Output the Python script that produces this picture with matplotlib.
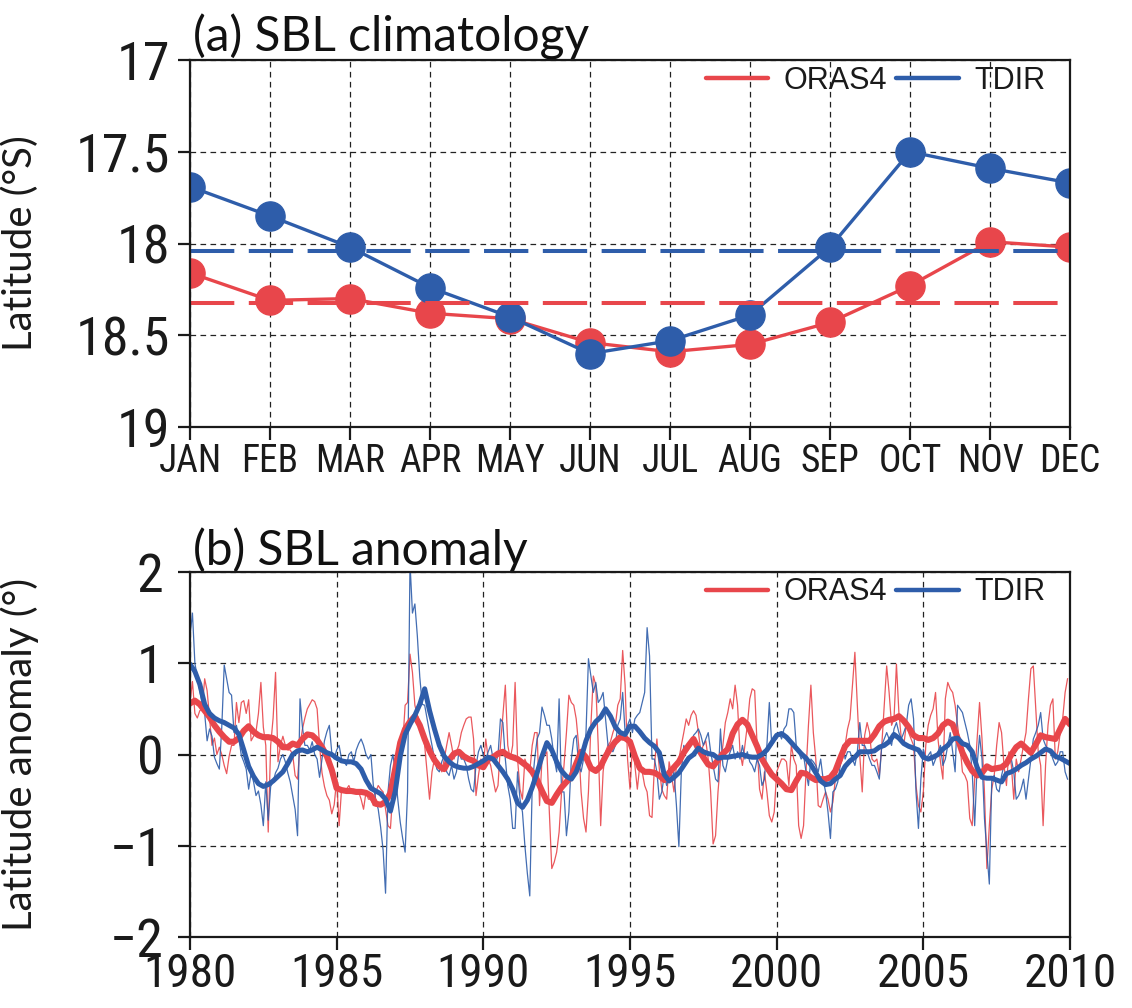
import numpy as np
import matplotlib
matplotlib.use("Agg")
import matplotlib.pyplot as plt
from matplotlib.lines import Line2D

# ---------------------------------------------------------------- data
months = ["JAN", "FEB", "MAR", "APR", "MAY", "JUN",
          "JUL", "AUG", "SEP", "OCT", "NOV", "DEC"]

# monthly climatology of the SBL latitude (degrees south)
oras4_clim = [18.16, 18.31, 18.30, 18.38, 18.41, 18.54,
              18.59, 18.55, 18.43, 18.23, 17.99, 18.02]
tdir_clim = [17.69, 17.85, 18.02, 18.24, 18.40, 18.60,
             18.53, 18.39, 18.02, 17.50, 17.59, 17.67]

clim_yticks = [17, 17.5, 18, 18.5, 19]
clim_yticklabels = ["17", "17.5", "18", "18.5", "19"]

start_year = 1980
end_year = 2010
year_ticks = [1980, 1985, 1990, 1995, 2000, 2005, 2010]
anom_yticks = [-2, -1, 0, 1, 2]

# monthly anomalies, Jan 1980 - Dec 2009 (degrees)
oras4_monthly = [
    0.57, 0.80, 0.45, 0.40, 0.48, 0.50, 0.83, 0.70, 0.40, 0.10, 0.18, 0.00,
    0.08, 0.00, -0.12, -0.21, -0.02, 0.10, 0.10, 0.57, 0.35, 0.57, 0.59, 0.45,
    0.60, 0.15, 0.20, 0.25, 0.45, 0.79, 0.30, 0.10, -0.85, 0.10, 0.40, 0.90,
    -0.08, 0.10, 0.20, 0.10, 0.05, 0.05, 0.00, -0.23, -0.27, 0.10, 0.28, 0.40,
    0.50, 0.55, 0.60, 0.58, 0.50, 0.10, -0.20, -0.35, -0.45, -0.50, -0.65, -0.55,
    -0.27, -0.78, -0.38, -0.41, -0.38, -0.34, -0.41, -0.38, -0.41, -0.41, -0.49, -0.60,
    -0.41, -0.49, -0.49, -0.56, -0.41, -0.34, -0.38, -0.41, -0.60, -0.78, -0.81, -0.41,
    -0.19, -0.12, -0.05, 0.10, 0.54, 0.57, 1.10, 0.90, 0.54, 0.43, 0.35, 0.24,
    0.10, -0.19, -0.49, -0.19, -0.05, -0.12, -0.12, -0.19, -0.05, 0.10, 0.24, 0.10,
    -0.05, 0.03, 0.10, 0.24, 0.32, 0.39, 0.41, 0.41, 0.17, -0.45, -0.23, -0.05,
    -0.12, 0.17, -0.05, -0.12, -0.27, -0.41, -0.34, 0.10, 0.43, 0.76, 0.10, -0.05,
    0.10, 0.79, -0.05, -0.38, -0.49, -0.05, -0.12, -0.19, 0.10, 0.24, 0.24, -0.56,
    -0.05, -0.01, 0.03, -0.63, -1.25, -1.18, -1.07, -0.85, -0.41, -0.12, 0.24, 0.65,
    0.57, 0.54, 0.39, 0.10, -0.41, -0.70, -0.85, -0.41, 0.32, 0.86, 0.76, 0.10,
    -0.78, -0.19, 0.03, 0.10, 0.14, 0.24, 0.32, 0.54, 0.61, 1.14, 0.76, -0.05,
    -0.38, 0.10, -0.12, -0.38, -0.12, -0.19, -0.34, -0.41, -0.67, -0.69, -0.12, 0.17,
    -0.16, -0.38, -0.45, -0.49, -0.08, -0.23, -0.41, -0.12, -0.05, 0.10, 0.24, 0.39,
    0.32, 0.43, 0.48, 0.43, 0.24, 0.03, 0.10, 0.15, -0.05, -0.41, -0.98, -0.89,
    -0.41, -0.08, 0.10, 0.35, 0.46, 0.61, 0.50, 0.76, 0.54, 0.03, -0.12, 0.10,
    0.32, 0.61, 0.72, 0.70, 0.10, -0.38, -0.49, -0.19, -0.41, -0.67, -0.74, -0.63,
    -0.19, -0.12, -0.05, -0.05, -0.08, -0.34, 0.10, -0.05, -0.12, -0.78, -0.92, -0.78,
    -0.19, 0.32, 0.76, 0.24, -0.05, -0.56, -0.58, -0.49, -0.41, -0.49, -0.63, -0.52,
    -0.27, -0.16, -0.12, -0.05, 0.10, 0.28, 0.39, 0.76, 1.12, 0.54, -0.01, -0.41,
    0.21, 0.35, 0.24, -0.05, -0.08, -0.05, -0.23, 0.10, 0.54, 0.97, 0.68, 0.32,
    0.39, 0.99, 0.46, 0.17, 0.10, 0.32, 0.24, 0.17, 0.10, -0.34, -0.56, -0.63,
    -0.41, 0.10, 0.32, 0.43, 0.50, 0.68, 0.17, -0.08, -0.27, 0.61, 0.79, 0.72,
    0.68, 0.54, 0.32, 0.10, -0.19, -0.23, -0.30, -0.70, -0.78, -0.27, 0.17, 0.57,
    0.17, -0.41, -1.25, -0.78, -0.38, -0.23, 0.10, 0.35, 0.24, -0.12, -0.34, 0.03,
    -0.12, -0.49, -0.05, -0.19, -0.05, 0.10, 0.24, 0.61, 0.94, 0.97, 0.50, 0.03,
    -0.12, -0.78, -0.12, 0.32, 0.54, 0.61, -0.05, 0.03, 0.24, 0.39, 0.68, 0.83,
]

tdir_monthly = [
    1.30, 1.55, 1.00, 0.85, 0.70, 0.55, 0.45, 0.15, 0.28, 0.20, -0.03, -0.10,
    -0.16, 0.30, 0.98, 0.83, 0.68, 0.65, 0.24, 0.32, 0.17, -0.01, -0.08, -0.16,
    -0.38, -0.20, -0.30, -0.45, -0.40, -0.55, -0.78, -0.30, -0.72, -0.35, -0.30, -0.20,
    -0.15, -0.05, 0.00, -0.08, -0.20, -0.30, -0.45, -0.60, -0.89, 0.61, 0.30, 0.10,
    0.10, 0.05, 0.14, 0.00, -0.05, -0.25, -0.05, 0.15, 0.25, 0.32, 0.02, -0.05,
    0.05, 0.10, -0.05, -0.08, -0.12, 0.00, 0.03, -0.08, 0.05, 0.12, 0.17, 0.10,
    0.00, -0.05, 0.00, -0.34, -0.50, -0.60, -0.80, -1.05, -1.52, -0.41, -0.12, 0.00,
    -0.19, -0.49, -0.74, -0.92, -1.07, -0.41, 2.10, 1.55, 1.65, 1.30, 0.85, 0.55,
    0.54, 0.39, 0.24, 0.10, -0.05, -0.16, -0.19, -0.08, -0.01, -0.19, -0.23, -0.12,
    -0.27, -0.19, 0.03, -0.05, -0.05, -0.12, -0.27, -0.38, -0.41, -0.12, 0.03, 0.10,
    -0.01, -0.05, 0.03, 0.10, -0.05, -0.10, -0.01, 0.39, 0.35, -0.05, -0.34, -0.49,
    -0.81, -0.81, -0.19, -0.49, -0.63, -1.00, -1.30, -1.55, -0.34, -0.05, 0.17, 0.24,
    0.52, 0.43, 0.32, 0.32, 0.17, -0.05, -0.19, 0.61, -0.41, -0.41, -0.89, -0.63,
    -0.05, 0.17, 0.21, -0.12, -0.19, -0.05, 0.24, 1.05, 0.86, 0.68, 0.79, 0.57,
    0.61, 0.68, 0.39, 0.10, 0.06, 0.03, 0.10, 0.32, 0.39, 0.68, 0.24, 0.32,
    0.39, 0.24, 0.39, 0.43, 0.46, 0.57, 0.68, 1.39, 1.08, -0.05, -0.05, -0.19,
    -0.49, -0.41, -0.23, -0.34, -0.16, -0.27, -0.19, -0.56, -1.01, -0.19, 0.10, 0.03,
    0.06, 0.10, 0.21, 0.24, 0.28, 0.21, 0.10, 0.17, 0.24, 0.03, -0.12, -0.27,
    -0.30, 0.28, -0.12, -0.19, -0.05, 0.03, 0.10, -0.05, 0.03, -0.05, 0.10, -0.05,
    0.03, -0.08, -0.12, -0.19, -0.05, -0.12, -0.34, -0.27, 0.10, 0.57, 0.10, 0.17,
    0.17, 0.24, 0.17, 0.28, 0.32, 0.50, 0.50, 0.46, 0.10, 0.03, -0.05, -0.01,
    -0.19, -0.34, -0.05, -0.08, -0.12, -0.19, -0.05, -0.27, -0.41, -0.63, -0.92, -0.41,
    -0.38, -0.30, -0.12, 0.10, -0.05, 0.03, 0.03, -0.05, -0.12, 0.03, 0.35, 0.10,
    0.10, 0.03, -0.05, -0.12, -0.12, -0.19, -0.27, 0.10, 0.17, 0.24, 0.17, 0.10,
    0.28, 0.35, 0.24, 0.17, 0.24, 0.32, 0.54, 0.61, 0.39, -0.41, -0.81, -0.27,
    0.06, -0.05, -0.01, 0.03, -0.12, -0.05, 0.03, 0.10, -0.12, -0.05, 0.10, 0.24,
    0.03, -0.19, 0.54, 0.50, 0.46, 0.35, 0.24, 0.10, -0.19, -0.78, -0.12, 0.21,
    -0.05, -0.70, -1.07, -1.42, -0.27, -0.23, -0.38, -0.41, -0.23, -0.12, -0.05, -0.01,
    -0.05, -0.19, -0.49, -0.45, -0.38, -0.27, -0.49, -0.27, -0.05, 0.17, 0.24, 0.32,
    0.46, 0.17, 0.10, 0.06, 0.03, -0.05, -0.12, -0.08, 0.03, 0.03, -0.19, -0.27,
]

# low-pass filtered anomalies, sampled every two months, 1980.0 - 2010.0
oras4_smooth = [
    0.56, 0.59, 0.55, 0.48, 0.41, 0.32,
    0.25, 0.19, 0.14, 0.14, 0.18, 0.26,
    0.31, 0.25, 0.21, 0.19, 0.19, 0.18,
    0.14, 0.08, 0.08, 0.12, 0.10, 0.17,
    0.22, 0.21, 0.16, 0.08, -0.02, -0.17,
    -0.37, -0.39, -0.40, -0.40, -0.41, -0.41,
    -0.42, -0.45, -0.54, -0.55, -0.52, -0.42,
    -0.15, 0.13, 0.28, 0.36, 0.42, 0.32,
    0.17, 0.04, -0.06, -0.13, -0.16, -0.06,
    0.01, 0.03, -0.02, -0.05, -0.07, -0.12,
    -0.14, -0.05, -0.03, 0.01, 0.03, -0.01,
    -0.03, -0.05, -0.09, -0.13, -0.19, -0.28,
    -0.40, -0.51, -0.53, -0.44, -0.36, -0.30,
    -0.24, -0.10, 0.03, -0.03, -0.15, -0.18,
    -0.13, -0.02, 0.07, 0.14, 0.19, 0.18,
    0.14, -0.02, -0.15, -0.19, -0.19, -0.20,
    -0.23, -0.28, -0.20, -0.14, -0.08, 0.02,
    0.10, 0.17, 0.06, -0.03, -0.11, -0.13,
    -0.06, 0.01, 0.06, 0.23, 0.33, 0.38,
    0.33, 0.21, 0.09, -0.05, -0.14, -0.22,
    -0.27, -0.32, -0.38, -0.39, -0.29, -0.20,
    -0.21, -0.25, -0.28, -0.27, -0.27, -0.25,
    -0.18, -0.04, 0.09, 0.15, 0.15, 0.15,
    0.15, 0.15, 0.22, 0.31, 0.36, 0.38,
    0.39, 0.42, 0.37, 0.30, 0.21, 0.18,
    0.18, 0.16, 0.18, 0.23, 0.32, 0.36,
    0.33, 0.18, 0.02, -0.09, -0.18, -0.23,
    -0.20, -0.13, -0.16, -0.15, -0.14, -0.10,
    0.00, 0.08, 0.12, 0.07, 0.02, 0.11,
    0.21, 0.19, 0.18, 0.17, 0.28, 0.39,
    0.33,
]

tdir_smooth = [
    0.99, 0.91, 0.77, 0.55, 0.45, 0.40,
    0.37, 0.35, 0.32, 0.29, 0.22, 0.05,
    -0.13, -0.24, -0.32, -0.35, -0.33, -0.29,
    -0.24, -0.19, -0.10, 0.00, 0.04, 0.05,
    0.03, 0.05, 0.08, 0.05, 0.02, 0.00,
    -0.04, -0.07, -0.08, -0.08, -0.10, -0.16,
    -0.28, -0.37, -0.40, -0.43, -0.49, -0.62,
    -0.40, -0.02, 0.22, 0.33, 0.43, 0.55,
    0.72, 0.48, 0.28, 0.10, -0.02, -0.08,
    -0.12, -0.14, -0.15, -0.15, -0.13, -0.10,
    -0.07, -0.03, -0.05, -0.12, -0.19, -0.27,
    -0.38, -0.53, -0.58, -0.50, -0.36, -0.20,
    -0.02, 0.13, 0.05, -0.08, -0.18, -0.24,
    -0.27, -0.19, -0.04, 0.15, 0.28, 0.36,
    0.41, 0.50, 0.42, 0.30, 0.24, 0.22,
    0.31, 0.31, 0.25, 0.18, 0.13, 0.09,
    0.02, -0.22, -0.29, -0.25, -0.20, -0.12,
    -0.04, 0.00, 0.07, 0.03, 0.01, 0.00,
    -0.04, -0.03, -0.03, -0.02, -0.01, 0.00,
    -0.02, -0.03, -0.03, 0.00, 0.05, 0.13,
    0.21, 0.23, 0.19, 0.13, 0.07, 0.01,
    -0.04, -0.11, -0.20, -0.29, -0.33, -0.32,
    -0.27, -0.23, -0.13, -0.07, -0.03, 0.03,
    0.03, 0.03, 0.04, 0.08, 0.10, 0.14,
    0.22, 0.18, 0.12, 0.09, 0.07, 0.05,
    -0.03, -0.05, -0.03, 0.00, 0.06, 0.10,
    0.17, 0.18, 0.12, 0.10, 0.03, -0.14,
    -0.25, -0.26, -0.26, -0.28, -0.30, -0.21,
    -0.19, -0.16, -0.12, -0.09, -0.05, -0.02,
    0.02, 0.06, 0.04, -0.02, -0.04, -0.07,
    -0.10,
]

# ---------------------------------------------------------------- style
RED = "#E8464B"
BLUE = "#2E5DAA"
TICK_FONT = ["Roboto Condensed", "Liberation Sans", "DejaVu Sans"]
LABEL_FONT = ["Lato", "DejaVu Sans"]
LEGEND_FONT = ["Liberation Sans", "DejaVu Sans"]
INK = "#1a1a1a"

plt.rcParams["axes.unicode_minus"] = True

W, H = 1132, 1008
fig = plt.figure(figsize=(W / 100, H / 100), dpi=100)
fig.patch.set_facecolor("white")

ax1 = fig.add_axes([190 / W, 1 - 427 / H, 880 / W, 367 / H])
ax2 = fig.add_axes([190 / W, 1 - 937 / H, 880 / W, 365 / H])


def style_axes(ax, xsize, ysize, xpad, ypad):
    for s in ax.spines.values():
        s.set_linewidth(1.6)
        s.set_color(INK)
        s.set_zorder(10)
    ax.tick_params(axis="both", which="major", direction="out", length=9,
                   width=1.6, color=INK, top=False, right=False)
    ax.tick_params(axis="x", pad=xpad)
    ax.tick_params(axis="y", pad=ypad)
    for lab in ax.get_xticklabels():
        lab.set_fontfamily(TICK_FONT)
        lab.set_fontsize(xsize)
        lab.set_color(INK)
    for lab in ax.get_yticklabels():
        lab.set_fontfamily(TICK_FONT)
        lab.set_fontsize(ysize)
        lab.set_color(INK)
    ax.grid(True, which="major", color="#222222", linewidth=0.9,
            linestyle=(0, (4.5, 3.5)))
    for gl in ax.get_xgridlines() + ax.get_ygridlines():
        gl.set_zorder(6)


def add_legend(ax):
    handles = [Line2D([], [], color=RED, lw=3.2, solid_capstyle="round"),
               Line2D([], [], color=BLUE, lw=3.2, solid_capstyle="round")]
    leg = ax.legend(handles, ["ORAS4", "TDIR"], ncol=2, frameon=False,
                    loc="upper right", bbox_to_anchor=(0.972, 0.985),
                    borderaxespad=0, borderpad=0, handlelength=2.05,
                    handletextpad=0.5, columnspacing=0.3,
                    prop={"family": LEGEND_FONT, "size": 22})
    for t in leg.get_texts():
        t.set_color(INK)
    leg.set_zorder(20)


# ---------------------------------------------------------------- (a) climatology
x_m = np.arange(len(months))
ax1.plot(x_m, oras4_clim, color=RED, lw=2.4, marker="o", markersize=21,
         zorder=3, solid_joinstyle="round")
ax1.plot(x_m, tdir_clim, color=BLUE, lw=2.4, marker="o", markersize=21,
         zorder=4, solid_joinstyle="round")
ax1.axhline(np.mean(tdir_clim), color=BLUE, lw=2.9,
            linestyle=(0, (11, 3.6)), zorder=5)
ax1.axhline(np.mean(oras4_clim), color=RED, lw=2.9,
            linestyle=(0, (11, 3.6)), zorder=5)

ax1.set_xlim(0, 11)
ax1.set_ylim(19, 17)
ax1.set_xticks(x_m)
ax1.set_xticklabels(months)
ax1.set_yticks(clim_yticks)
ax1.set_yticklabels(clim_yticklabels)
style_axes(ax1, 27, 39, 2.5, 5)
ax1.set_ylabel("Latitude (°S)", family=LABEL_FONT, fontsize=29, color=INK)
ax1.yaxis.set_label_coords(-0.172, 0.5)
ax1.text(0.003, 1.022, "(a) SBL climatology", transform=ax1.transAxes,
         family=LABEL_FONT, fontsize=34.5, color="#111111", va="baseline",
         ha="left")
add_legend(ax1)

# ---------------------------------------------------------------- (b) anomaly
t_month = start_year + np.arange(len(oras4_monthly)) / 12.0
t_smooth = start_year + np.arange(len(oras4_smooth)) / 6.0

ax2.plot(t_month, oras4_monthly, color=RED, lw=0.9, alpha=0.9, zorder=2)
ax2.plot(t_month, tdir_monthly, color=BLUE, lw=0.9, alpha=0.9, zorder=3)
ax2.plot(t_smooth, oras4_smooth, color=RED, lw=4.4, zorder=4,
         solid_joinstyle="round", solid_capstyle="round")
ax2.plot(t_smooth, tdir_smooth, color=BLUE, lw=3.6, zorder=5,
         solid_joinstyle="round", solid_capstyle="round")

ax2.set_xlim(start_year, end_year)
ax2.set_ylim(-2, 2)
ax2.set_xticks(year_ticks)
ax2.set_xticklabels([str(y) for y in year_ticks])
ax2.set_yticks(anom_yticks)
ax2.set_yticklabels(["\u22122", "\u22121", "0", "1", "2"])
style_axes(ax2, 34, 39, 2, 10)
ax2.set_ylabel("Latitude anomaly (°)", family=LABEL_FONT, fontsize=29,
               color=INK)
ax2.yaxis.set_label_coords(-0.172, 0.5)
ax2.text(0.003, 1.02, "(b) SBL anomaly", transform=ax2.transAxes,
         family=LABEL_FONT, fontsize=34.5, color="#111111", va="baseline",
         ha="left")
add_legend(ax2)

fig.savefig("out.png", dpi=100, facecolor="white")
